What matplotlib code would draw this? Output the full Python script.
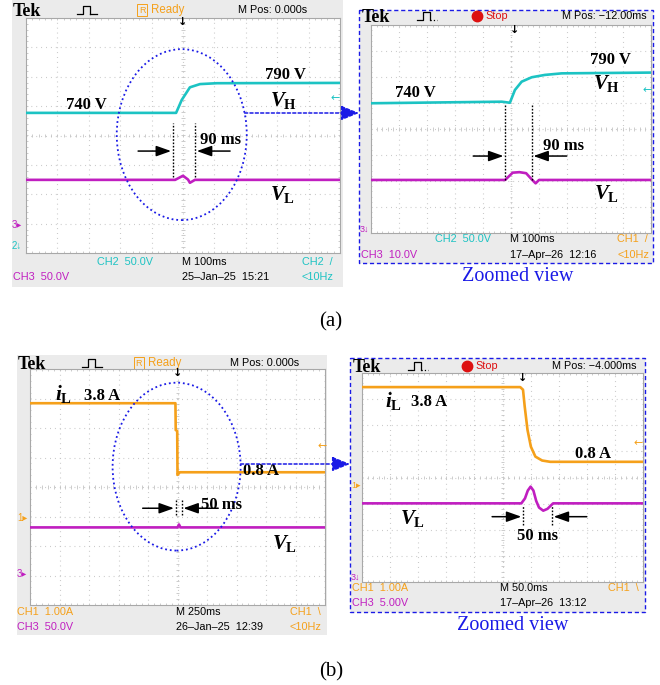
import numpy as np
import matplotlib
matplotlib.use('Agg')
import matplotlib.pyplot as plt
from matplotlib.patches import Ellipse, Rectangle

W, H = 660, 685

CYAN = '#1cc3c3'
MAG = '#c01ec0'
ORNG = '#f5a01a'
BLUE = '#1a1ae6'
BEZEL = '#ebebeb'
GRIDC = '#c4c4c4'
SANS = ['Liberation Sans', 'DejaVu Sans']

plt.rcParams['mathtext.fontset'] = 'custom'
plt.rcParams['mathtext.it'] = 'Liberation Serif:italic:bold'
plt.rcParams['mathtext.rm'] = 'Liberation Serif:bold'
plt.rcParams['mathtext.bf'] = 'Liberation Serif:bold'

# ---- traces, read off the screens (x in divisions 0..10, y in divisions -4..4)
# (a) left: full view
a1_vh_t = [0, 4.78, 4.96, 5.22, 5.54, 6.08, 10]
a1_vh_y = [0.77, 0.77, 1.21, 1.64, 1.75, 1.78, 1.79]
a1_vl_t = [0, 4.75, 5.0, 5.16, 5.22, 5.38, 10]
a1_vl_y = [-1.51, -1.51, -1.37, -1.5, -1.61, -1.51, -1.51]
# (a) right: zoomed view
a2_vh_t = [0, 4.67, 4.96, 5.14, 5.38, 5.74, 6.21, 6.81, 10]
a2_vh_y = [0.99, 1.05, 1.01, 1.5, 1.82, 1.99, 2.08, 2.14, 2.17]
a2_vl_t = [0, 4.6, 4.79, 5.06, 5.3, 5.54, 5.75, 5.88, 6.0, 10]
a2_vl_y = [-1.96, -1.96, -1.96, -1.68, -1.66, -1.7, -1.95, -2.09, -1.96, -1.96]
# (b) left: full view
b1_il_t = [0, 4.93, 4.94, 4.99, 5.0, 5.08, 10]
b1_il_y = [2.84, 2.84, 1.93, 1.9, 0.41, 0.5, 0.5]
b1_vl_t = [0, 5.0, 5.05, 5.1, 10]
b1_vl_y = [-1.37, -1.37, -1.27, -1.37, -1.37]
# (b) right: zoomed view
b2_il_t = [0, 5.63, 5.73, 5.79, 5.89, 6.01, 6.17, 6.41, 6.70, 10]
b2_il_y = [3.46, 3.46, 3.36, 2.72, 1.82, 1.18, 0.80, 0.65, 0.60, 0.60]
b2_vl_t = [0, 5.67, 5.8, 5.9, 6.0, 6.1, 6.2, 6.3, 6.45, 6.6, 6.8, 10]
b2_vl_y = [-0.99, -0.99, -0.8, -0.5, -0.35, -0.5, -0.9, -1.15, -1.27, -1.2, -0.99, -0.99]

fig = plt.figure(figsize=(W / 100, H / 100), dpi=100)
fig.patch.set_facecolor('white')

# canvas in pixel units for bezels and scope texts
cv = fig.add_axes([0, 0, 1, 1])
cv.set_xlim(0, W)
cv.set_ylim(H, 0)
cv.axis('off')


def px_axes(x0, y0, x1, y1):
    return fig.add_axes([x0 / W, 1 - y1 / H, (x1 - x0) / W, (y1 - y0) / H])


def stext(x, y, s, c='black', size=7.8, **kw):
    cv.text(x, y, s, color=c, fontsize=size, family=SANS,
            ha='left', va='center', **kw)


def pulse(x, y, dotted=False):
    xs = np.array([0, 6, 6, 13, 13, 20]) + x
    ys = np.array([4, 4, -4, -4, 4, 4]) + y
    cv.plot(xs[:5], ys[:5], color='black', lw=0.9)
    cv.plot(xs[4:], ys[4:], color='black', lw=0.9, ls=':' if dotted else '-')


def header(x, y, mid, pos, postxt, stop=False):
    cv.text(x, y + 1, 'Tek', fontsize=13, family='Liberation Serif',
            weight='bold', ha='left', va='center')
    pulse(x + 64 if not stop else x + 55, y, dotted=stop)
    if stop:
        cv.plot(mid, y, 'o', ms=7.5, color='#dd1111')
        stext(mid + 8, y, 'Stop', c='#dd1111')
    else:
        cv.text(mid, y, 'R', color=ORNG, fontsize=6.5, family=SANS,
                ha='center', va='center',
                bbox=dict(boxstyle='square,pad=0.15', fc='none', ec=ORNG, lw=0.7))
        stext(mid + 9, y, 'Ready', c=ORNG, size=8.3)
    stext(pos, y, 'M Pos: ' + postxt)


def scope(rect):
    ax = px_axes(*rect)
    ax.set_xlim(0, 10)
    ax.set_ylim(-4, 4)
    ax.set_xticks([])
    ax.set_yticks([])
    ax.set_facecolor('white')
    for s in ax.spines.values():
        s.set_color('#a8a8a8')
        s.set_linewidth(0.8)
    for gx in range(1, 10):
        ax.axvline(gx, color=GRIDC, lw=0.8, ls=(0, (0.8, 3.6)), zorder=1)
    for gy in range(-3, 4):
        ax.axhline(gy, color=GRIDC, lw=0.8, ls=(0, (0.8, 3.6)), zorder=1)
    tx = np.arange(0.2, 10, 0.2)
    ty = np.arange(-3.8, 4, 0.2)
    ax.vlines(tx, -0.06, 0.06, color=GRIDC, lw=0.6, zorder=1)
    ax.hlines(ty, 4.95, 5.05, color=GRIDC, lw=0.6, zorder=1)
    ax.vlines(tx, -4, -3.92, color=GRIDC, lw=0.6, zorder=1)
    ax.vlines(tx, 3.92, 4, color=GRIDC, lw=0.6, zorder=1)
    ax.hlines(ty, 0, 0.05, color=GRIDC, lw=0.6, zorder=1)
    ax.hlines(ty, 9.95, 10, color=GRIDC, lw=0.6, zorder=1)
    return ax


def serif(ax, x, y, s, size=12, ha='center', dy=-0.1):
    ax.text(x, y + dy, s, fontsize=size, family='Liberation Serif', weight='bold',
            ha=ha, va='center', zorder=6)


def span(ax, xl, xr, y0, y1, ya, al, ar, label, lx, ly):
    ax.vlines([xl, xr], y0, y1, color='black', lw=1.0, ls=(0, (1.2, 1.2)), zorder=5)
    arr = dict(arrowstyle='-|>,head_length=0.9,head_width=0.32', color='black',
               lw=1.1, shrinkA=0, shrinkB=0)
    ax.annotate('', xy=(xl - 0.06, ya), xytext=(al, ya), arrowprops=arr, zorder=6)
    ax.annotate('', xy=(xr + 0.06, ya), xytext=(ar, ya), arrowprops=arr, zorder=6)
    serif(ax, lx, ly, label)


def zoom_link(ax, el, end_px):
    # dotted ellipse round the transient and a dashed arrow to the zoomed view
    cx, cy, w, h = el
    ax.add_patch(Ellipse((cx, cy), w, h, fill=False, ec=BLUE, lw=1.3,
                         ls=(0, (1, 1.6)), zorder=4))
    ex, ey = end_px
    ya = ax.transData.inverted().transform((ex, H - ey))[1]
    xa = cx + w / 2 * np.sqrt(max(0.0, 1 - ((ya - cy) / (h / 2)) ** 2))
    ax.annotate('', xy=(ex, H - ey), xycoords='figure pixels',
                xytext=(xa, ya), textcoords='data',
                arrowprops=dict(arrowstyle='-|>,head_length=1.1,head_width=0.45',
                                color=BLUE, lw=1.1, ls=(0, (2, 1.5)),
                                shrinkA=0, shrinkB=0),
                annotation_clip=False, zorder=7)


# ---------------- bezels and frames ----------------
cv.add_patch(Rectangle((12, 0), 331, 287, fc=BEZEL, ec='none'))
cv.add_patch(Rectangle((17, 355), 310, 280, fc=BEZEL, ec='none'))
cv.add_patch(Rectangle((359, 10), 294, 253, fc=BEZEL, ec=BLUE, lw=1.0, ls=(0, (3, 2))))
cv.add_patch(Rectangle((350, 358), 295, 254, fc=BEZEL, ec=BLUE, lw=1.0, ls=(0, (3, 2))))

# ---------------- headers / footers ----------------
header(13, 10, 142, 238, '0.000s')
header(362, 16, 477, 562, '\u221212.00ms', stop=True)
header(18, 363, 139, 230, '0.000s')
header(353, 366, 467, 552, '\u22124.000ms', stop=True)

stext(97, 262, 'CH2  50.0V', c=CYAN)
stext(182, 262, 'M 100ms')
stext(302, 262, 'CH2  /', c=CYAN)
stext(13, 277, 'CH3  50.0V', c=MAG)
stext(182, 277, '25\u2013Jan\u201325  15:21')
stext(302, 277, '<10Hz', c=CYAN)

stext(435, 239, 'CH2  50.0V', c=CYAN)
stext(510, 239, 'M 100ms')
stext(617, 239, 'CH1  /', c=ORNG)
stext(361, 255, 'CH3  10.0V', c=MAG)
stext(510, 255, '17\u2013Apr\u201326  12:16')
stext(617, 255, '<10Hz', c=ORNG)

stext(17, 612, 'CH1  1.00A', c=ORNG)
stext(176, 612, 'M 250ms')
stext(290, 612, 'CH1  \\', c=ORNG)
stext(17, 627, 'CH3  50.0V', c=MAG)
stext(176, 627, '26\u2013Jan\u201325  12:39')
stext(290, 627, '<10Hz', c=ORNG)

stext(352, 588, 'CH1  1.00A', c=ORNG)
stext(500, 588, 'M 50.0ms')
stext(608, 588, 'CH1  \\', c=ORNG)
stext(352, 603, 'CH3  5.00V', c=MAG)
stext(500, 603, '17\u2013Apr\u201326  13:12')

# ground markers
stext(12, 225, '3\u25b8', c=MAG, size=7)
stext(12, 246, '2\u2193', c=CYAN, size=7)
stext(360, 229, '3\u2193', c=MAG, size=6.5)
stext(17, 518, '1\u25b8', c=ORNG, size=7)
stext(17, 574, '3\u25b8', c=MAG, size=7)
stext(351, 485, '1\u25b8', c=ORNG, size=6.5)
stext(351, 577, '3\u2193', c=MAG, size=6.5)

# captions
for xc, yc, s in [(518, 276, 'Zoomed view'), (513, 625, 'Zoomed view')]:
    cv.text(xc, yc, s, color=BLUE, fontsize=14.5, family='Liberation Serif',
            ha='center', va='center')
cv.text(331, 322, '(a)', fontsize=15, family='Liberation Serif', ha='center', va='center')
cv.text(331, 672, '(b)', fontsize=15, family='Liberation Serif', ha='center', va='center')

# ---------------- (a) left ----------------
ax = scope((26, 18, 340, 253))
ax.plot(a1_vh_t, a1_vh_y, color=CYAN, lw=1.9, zorder=3)
ax.plot(a1_vl_t, a1_vl_y, color=MAG, lw=1.9, zorder=3)
ax.text(5.0, 3.85, '\u2193', fontsize=8, weight='bold', ha='center', va='center')
ax.text(9.86, 1.28, '\u2190', color=CYAN, fontsize=8, ha='center', va='center')
serif(ax, 1.93, 1.14, '740 V')
serif(ax, 8.27, 2.16, '790 V')
serif(ax, 7.77, 1.2, r'$V_{\mathrm{H}}$', size=15, ha='left', dy=0)
serif(ax, 7.77, -2.02, r'$V_{\mathrm{L}}$', size=15, ha='left', dy=0)
span(ax, 4.68, 5.38, -1.41, 0.43, -0.53, 3.57, 6.5, '90 ms', 6.18, -0.05)
zoom_link(ax, (4.96, 0.03, 4.14, 5.82), (359, 113))

# ---------------- (a) right ----------------
ax = scope((371, 25, 651, 233))
ax.plot(a2_vh_t, a2_vh_y, color=CYAN, lw=1.9, zorder=3)
ax.plot(a2_vl_t, a2_vl_y, color=MAG, lw=1.9, zorder=3)
ax.text(5.14, 3.8, '\u2193', fontsize=8, weight='bold', ha='center', va='center')
ax.text(9.85, 1.5, '\u2190', color=CYAN, fontsize=8, ha='center', va='center')
serif(ax, 1.57, 1.5, '740 V')
serif(ax, 8.54, 2.76, '790 V')
serif(ax, 7.94, 1.74, r'$V_{\mathrm{H}}$', size=15, ha='left', dy=0)
serif(ax, 7.98, -2.48, r'$V_{\mathrm{L}}$', size=15, ha='left', dy=0)
span(ax, 4.79, 5.74, -1.96, 0.96, -1.04, 3.65, 6.99, '90 ms', 6.87, -0.55)

# ---------------- (b) left ----------------
ax = scope((30, 369, 325, 605))
ax.plot(b1_il_t, b1_il_y, color=ORNG, lw=1.9, zorder=3)
ax.plot(b1_vl_t, b1_vl_y, color=MAG, lw=1.9, zorder=3)
ax.text(5.0, 3.85, '\u2193', fontsize=8, weight='bold', ha='center', va='center')
ax.text(9.9, 1.39, '\u2190', color=ORNG, fontsize=8, ha='center', va='center')
serif(ax, 0.85, 3.14, r'$i_{\mathrm{L}}$', size=15, ha='left', dy=0)
serif(ax, 2.43, 3.2, '3.8 A')
serif(ax, 7.82, 0.63, '0.8 A')
serif(ax, 8.19, -1.92, r'$V_{\mathrm{L}}$', size=15, ha='left', dy=0)
span(ax, 4.94, 5.14, -0.95, -0.42, -0.72, 3.82, 6.38, '50 ms', 6.5, -0.5)
zoom_link(ax, (4.97, 0.69, 4.34, 5.69), (350, 464))

# ---------------- (b) right ----------------
ax = scope((362, 373, 643, 582))
ax.plot(b2_il_t, b2_il_y, color=ORNG, lw=1.9, zorder=3)
ax.plot(b2_vl_t, b2_vl_y, color=MAG, lw=1.9, zorder=3)
ax.text(5.73, 3.8, '\u2193', fontsize=8, weight='bold', ha='center', va='center')
ax.text(9.82, 1.31, '\u2190', color=ORNG, fontsize=8, ha='center', va='center')
serif(ax, 0.83, 2.92, r'$i_{\mathrm{L}}$', size=15, ha='left', dy=0)
serif(ax, 2.37, 2.98, '3.8 A')
serif(ax, 8.21, 0.99, '0.8 A')
serif(ax, 1.34, -1.57, r'$V_{\mathrm{L}}$', size=15, ha='left', dy=0)
span(ax, 5.73, 6.76, -1.82, -1.06, -1.5, 4.63, 8.0, '50 ms', 6.25, -2.14)

fig.savefig('out.png', dpi=100)
